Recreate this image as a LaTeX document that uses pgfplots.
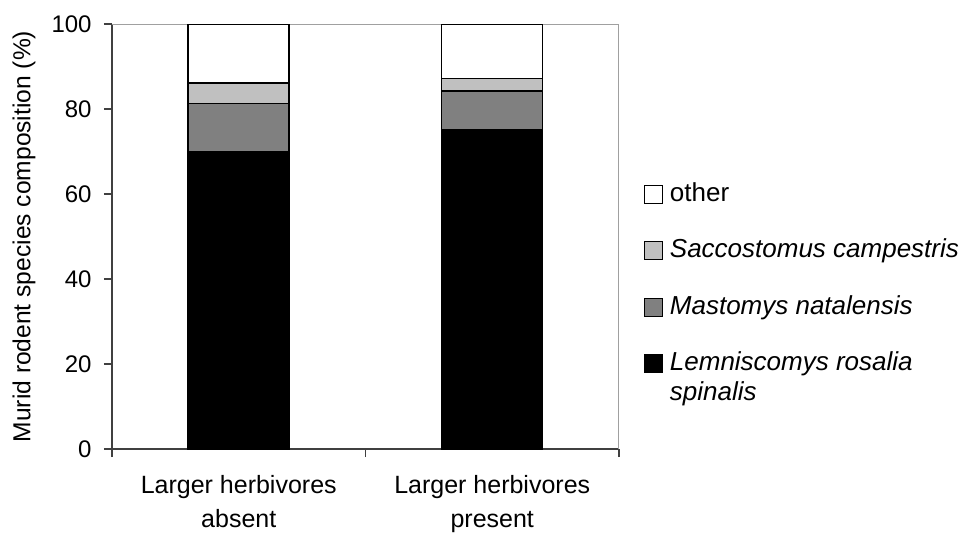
\documentclass[border=0pt]{standalone}
\usepackage{fontspec}
\setmainfont{Liberation Sans}
\usepackage{pgfplots}
\pgfplotsset{compat=1.18}
\definecolor{midgray}{HTML}{808080}
\definecolor{lightgray}{HTML}{C0C0C0}
\definecolor{boxgray}{HTML}{A0A0A0}
\definecolor{axisdark}{HTML}{404040}

\begin{document}
\fontsize{12}{15}\selectfont
\begin{tikzpicture}
\useasboundingbox (-56pt,-41.5pt) rectangle (427pt,224.5pt);
\begin{axis}[
  scale only axis, width=253.5pt, height=212.5pt,
  ybar stacked, bar width=50.5pt,
  xmin=-0.5, xmax=1.5, ymin=0, ymax=100,
  axis x line*=bottom, axis y line*=left,
  axis line style={axisdark, line width=0.8pt},
  tick align=outside, major tick length=4pt,
  tick style={axisdark, line width=0.8pt},
  xtick={0,1},
  xticklabels={Larger herbivores\\absent, Larger herbivores\\present},
  major x tick style={draw=none},
  extra x ticks={-0.5,0.5,1.5}, extra x tick labels={},
  extra x tick style={major x tick style={draw=axisdark, line width=0.8pt}},
  xticklabel style={align=center, font=\fontsize{12.5}{17}\selectfont, yshift=-5pt},
  ytick={0,20,...,100},
  /pgf/number format/assume math mode=true,
  yticklabel style={font=\fontsize{12}{15}\selectfont, xshift=-2pt},
  ylabel={Murid rodent species composition (\%)},
  ylabel style={at={(axis description cs:-0.1736,0.5)}, anchor=center, rotate=0,
    font=\fontsize{12.3}{15}\selectfont},
  legend cell align=left,
  reverse legend,
  legend style={draw=none, fill=none, at={(1.048,0.626)}, anchor=north west,
    inner sep=0pt, row sep=16.25pt, column sep=3.5pt,
    nodes={inner sep=0pt, text height=9pt, text depth=3pt, anchor=base west},
    font=\fontsize{13}{15}\selectfont},
  legend image code/.code={\draw[#1, line width=0.6pt] (0pt,-1pt) rectangle (9pt,8pt);},
]
\addplot[fill=black, draw=black, line width=0.75pt] coordinates {(0,70.0) (1,75.1)};
\addplot[fill=midgray, draw=black, line width=0.75pt] coordinates {(0,11.3) (1,9.1)};
\addplot[fill=lightgray, draw=black, line width=0.75pt] coordinates {(0,4.8) (1,3.0)};
\addplot[fill=white, draw=black, line width=0.75pt] coordinates {(0,13.9) (1,12.8)};
\addlegendentry{\begin{tabular}[t]{@{}l@{}}\textit{Lemniscomys rosalia}\\\textit{spinalis}\end{tabular}}
\addlegendentry{\textit{Mastomys natalensis}}
\addlegendentry{\textit{Saccostomus campestris}}
\addlegendentry{other}
\draw[boxgray, line width=0.8pt] (rel axis cs:0,1) -- (rel axis cs:1,1) -- (rel axis cs:1,0);
\end{axis}
\end{tikzpicture}
\end{document}
